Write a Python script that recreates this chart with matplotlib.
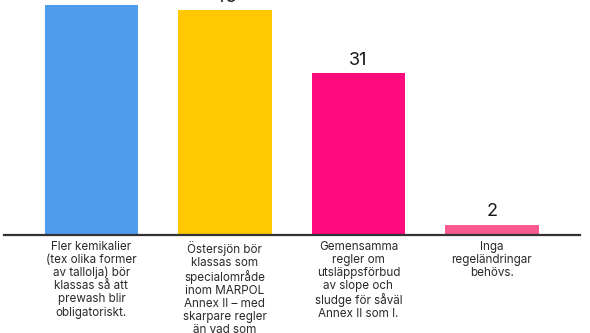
import matplotlib
matplotlib.use('Agg')
import matplotlib.pyplot as plt

# -------------------------------
# data

categories = ['Fler kemikalier\n(tex olika former\nav tallolja) bör\nklassas så att\nprewash blir\nobligatoriskt.',
              'Östersjön bör\nklassas som\nspecialområde\ninom MARPOL\nAnnex II – med\nskarpare regler\nän vad som',
              'Gemensamma\nregler om\nutsläppsförbud\nav slope och\nsludge för såväl\nAnnex II som I.',
              'Inga\nregeländringar\nbehövs.']
values = [44, 43, 31, 2]
colors = ['#4f9bec', '#ffc800', '#fd0a7c', '#f85a8e']

plt.rcParams['font.family'] = ['Inter', 'DejaVu Sans']

fig = plt.figure(figsize=(5.9, 3.33), dpi=100)
# axes top is the figure top, so the tallest value labels are cut like in the reference
ax = fig.add_axes([4/590, 1-235/333, 576/590, 235/333])

xx = range(len(values))
bars = ax.bar(xx, values, width=0.7, color=colors)
for bb, vv in zip(bars, values):
    ax.annotate(str(vv), (bb.get_x()+bb.get_width()/2, vv), xytext=(0, 3),
                textcoords='offset points', ha='center', va='bottom',
                fontsize=13, color='#1a1a1a', annotation_clip=False)

ax.set_xlim(-0.655, 3.66)
ax.set_ylim(0, 45)
ax.set_xticks(list(xx))
ax.set_xticklabels(categories, fontsize=8.4, color='#2a2a2a', linespacing=1.12, va='top')
ax.tick_params(axis='x', length=0, pad=4)
ax.set_yticks([])
for side in ['top', 'right', 'left']:
    ax.spines[side].set_visible(False)
ax.spines['bottom'].set_color('#333333')
ax.spines['bottom'].set_linewidth(1.6)

plt.savefig('out.png', dpi=100)
plt.close('all')
